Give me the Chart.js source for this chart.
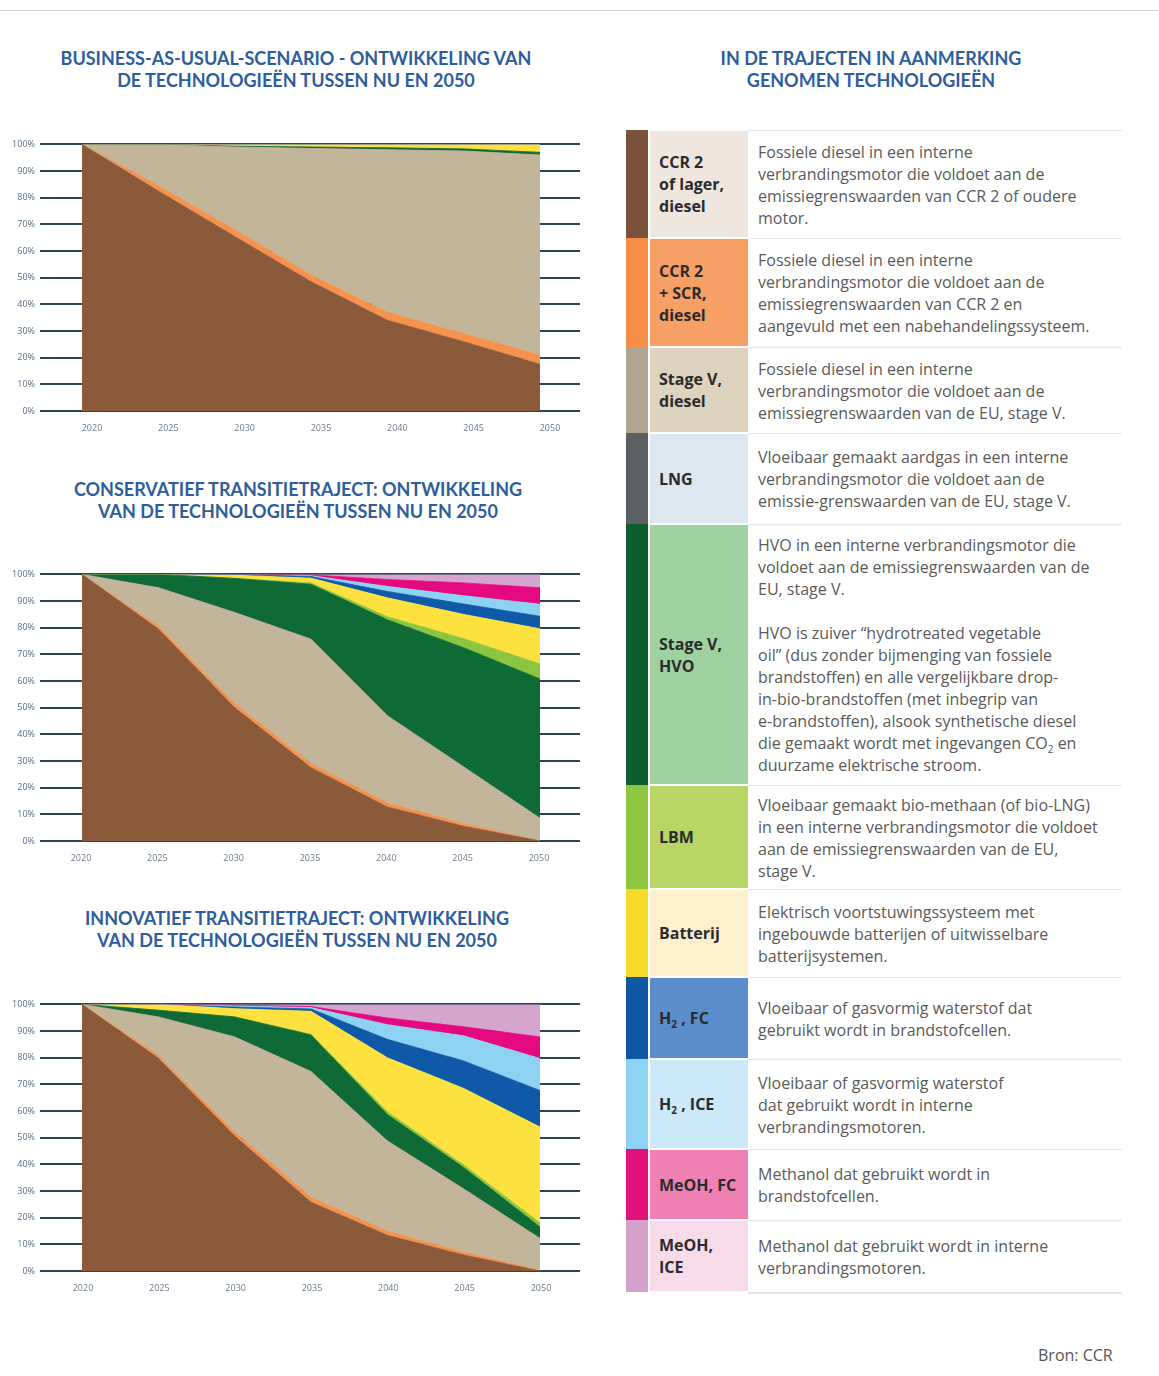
<!DOCTYPE html>
<html lang="nl">
<head>
<meta charset="utf-8">
<script src="https://cdn.jsdelivr.net/npm/chart.js@4.4.1/dist/chart.umd.min.js"></script>
<style>
  html, body { margin:0; padding:0; background:#fff; }
  body { width:1159px; height:1376px; position:relative; overflow:hidden; font-family:"Open Sans", sans-serif; }
  .topline { position:absolute; left:0; top:10px; width:1159px; height:1px; background:#cfcfcf; }
  .title { position:absolute; font-family:Lato, sans-serif; font-weight:700; font-size:18px; line-height:22px; color:#2d5d9c; text-align:center; white-space:nowrap; }
  canvas { position:absolute; left:0; }
  .row { position:absolute; left:626px; width:496px; }
  .sw { position:absolute; left:0; top:0; bottom:0; width:22px; }
  .lab { position:absolute; left:24px; top:1px; bottom:1px; width:98px; display:flex; align-items:center; box-sizing:border-box; padding-left:9px; font-weight:700; font-size:16px; line-height:22px; color:#2b2b2b; }
  .desc { position:absolute; left:122px; right:0; top:0; bottom:0; display:flex; align-items:center; box-sizing:border-box; padding-left:10px; font-size:16px; line-height:22px; color:#5a5a5a; border-top:1.5px solid #e6e6e6; white-space:nowrap; }
  .lab sub, .desc sub { font-size:10px; line-height:0; }
  .src { position:absolute; left:1038px; top:1344px; font-size:16px; color:#555; }
</style>
</head>
<body>
<div class="topline"></div>
<div class="title" style="left:0;width:592px;top:47px;">BUSINESS-AS-USUAL-SCENARIO - ONTWIKKELING VAN<br>DE TECHNOLOGIEËN TUSSEN NU EN 2050</div>
<div class="title" style="left:0;width:596px;top:478px;">CONSERVATIEF TRANSITIETRAJECT: ONTWIKKELING<br>VAN DE TECHNOLOGIEËN TUSSEN NU EN 2050</div>
<div class="title" style="left:0;width:594px;top:907px;">INNOVATIEF TRANSITIETRAJECT: ONTWIKKELING<br>VAN DE TECHNOLOGIEËN TUSSEN NU EN 2050</div>
<div class="title" style="left:620px;width:502px;top:47px;">IN DE TRAJECTEN IN AANMERKING<br>GENOMEN TECHNOLOGIEËN</div>

<canvas id="c1" width="590" height="307" style="top:134px;width:590px;height:307px;"></canvas>
<canvas id="c2" width="590" height="307" style="top:564px;width:590px;height:307px;"></canvas>
<canvas id="c3" width="590" height="307" style="top:994px;width:590px;height:307px;"></canvas>

<div id="legend"></div>
<div class="src">Bron: CCR</div>

<script>
// ---------- DATA ----------
const years = [2020, 2025, 2030, 2035, 2040, 2045, 2050];
const yearTicks = [2020, 2025, 2030, 2035, 2040, 2045, 2050];
const percentTicks = [0, 10, 20, 30, 40, 50, 60, 70, 80, 90, 100];

const seriesNames = ['CCR 2 of lager, diesel', 'CCR 2 + SCR, diesel', 'Stage V, diesel', 'LNG', 'Stage V, HVO', 'LBM', 'Batterij', 'H2, FC', 'H2, ICE', 'MeOH, FC', 'MeOH, ICE'];

// Business-as-usual
const bauCCR2   = [100, 82.5, 65.5, 48.5, 34, 26, 17.5];
const bauSCR    = [0, 2, 2.5, 2.5, 3, 3, 3.5];
const bauStageV = [0, 15.5, 31, 47.5, 61, 68.5, 75];
const bauLNG    = [0, 0, 0, 0, 0, 0, 0];
const bauHVO    = [0, 0, 0.3, 0.5, 0.7, 0.8, 1];
const bauLBM    = [0, 0, 0, 0, 0, 0, 0];
const bauBat    = [0, 0, 0.7, 1, 1.3, 1.7, 3];
const bauH2FC   = [0, 0, 0, 0, 0, 0, 0];
const bauH2ICE  = [0, 0, 0, 0, 0, 0, 0];
const bauMeFC   = [0, 0, 0, 0, 0, 0, 0];
const bauMeICE  = [0, 0, 0, 0, 0, 0, 0];

// Conservatief
const consCCR2   = [100, 79.5, 50, 27.5, 12.8, 5.5, 0];
const consSCR    = [0, 1, 1.5, 1.5, 1.5, 1, 0];
const consStageV = [0, 14.5, 34.2, 46.7, 32.7, 21.3, 8.5];
const consLNG    = [0, 0, 0, 0, 0, 0, 0];
const consHVO    = [0, 5, 12.8, 20.6, 36, 44.7, 52.3];
const consLBM    = [0, 0, 0, 0.5, 1.1, 3.4, 5.6];
const consBat    = [0, 0, 1.2, 1.8, 7.1, 9.1, 13.2];
const consH2FC   = [0, 0, 0.3, 0.6, 2.4, 3.9, 4.7];
const consH2ICE  = [0, 0, 0, 0.3, 1.9, 3.1, 4.5];
const consMeFC   = [0, 0, 0, 0.3, 2.6, 4.8, 6.2];
const consMeICE  = [0, 0, 0, 0.2, 1.9, 3.2, 5];

// Innovatief
const innoCCR2   = [100, 79.8, 50.6, 25.8, 13.4, 6, 0];
const innoSCR    = [0, 1, 1.5, 1.8, 1.5, 1, 0.3];
const innoStageV = [0, 14.5, 35.7, 47.2, 33.9, 23.8, 11.9];
const innoLNG    = [0, 0, 0, 0, 0, 0, 0];
const innoHVO    = [0, 2.5, 7.5, 13.7, 9.9, 8, 4.3];
const innoLBM    = [0, 0, 0, 0.3, 1, 1, 1.5];
const innoBat    = [0, 2.2, 3.1, 8.6, 20.3, 28.7, 36];
const innoH2FC   = [0, 0, 0.6, 0.9, 6.9, 10.3, 13.7];
const innoH2ICE  = [0, 0, 0.4, 0.5, 5.5, 9.4, 12];
const innoMeFC   = [0, 0, 0.3, 0.4, 2.5, 3.4, 8.1];
const innoMeICE  = [0, 0, 0.3, 0.8, 5.1, 8.4, 12.2];

// Legend texts
const legendLabels = [
  'CCR 2<br>of lager,<br>diesel',
  'CCR 2<br>+ SCR,<br>diesel',
  'Stage V,<br>diesel',
  'LNG',
  'Stage V,<br>HVO',
  'LBM',
  'Batterij',
  'H<sub>2</sub> , FC',
  'H<sub>2</sub> , ICE',
  'MeOH, FC',
  'MeOH,<br>ICE'
];
const legendDescs = [
  'Fossiele diesel in een interne<br>verbrandingsmotor die voldoet aan de<br>emissiegrenswaarden van CCR 2 of oudere<br>motor.',
  'Fossiele diesel in een interne<br>verbrandingsmotor die voldoet aan de<br>emissiegrenswaarden van CCR 2 en<br>aangevuld met een nabehandelingssysteem.',
  'Fossiele diesel in een interne<br>verbrandingsmotor die voldoet aan de<br>emissiegrenswaarden van de EU, stage V.',
  'Vloeibaar gemaakt aardgas in een interne<br>verbrandingsmotor die voldoet aan de<br>emissie-grenswaarden van de EU, stage V.',
  'HVO in een interne verbrandingsmotor die<br>voldoet aan de emissiegrenswaarden van de<br>EU, stage V.<br><br>HVO is zuiver “hydrotreated vegetable<br>oil” (dus zonder bijmenging van fossiele<br>brandstoffen) en alle vergelijkbare drop-<br>in-bio-brandstoffen (met inbegrip van<br>e-brandstoffen), alsook synthetische diesel<br>die gemaakt wordt met ingevangen CO<sub>2</sub> en<br>duurzame elektrische stroom.',
  'Vloeibaar gemaakt bio-methaan (of bio-LNG)<br>in een interne verbrandingsmotor die voldoet<br>aan de emissiegrenswaarden van de EU,<br>stage V.',
  'Elektrisch voortstuwingssysteem met<br>ingebouwde batterijen of uitwisselbare<br>batterijsystemen.',
  'Vloeibaar of gasvormig waterstof dat<br>gebruikt wordt in brandstofcellen.',
  'Vloeibaar of gasvormig waterstof<br>dat gebruikt wordt in interne<br>verbrandingsmotoren.',
  'Methanol dat gebruikt wordt in<br>brandstofcellen.',
  'Methanol dat gebruikt wordt in interne<br>verbrandingsmotoren.'
];

// ---------- STYLE / LAYOUT ----------
const seriesColors = ['#8a5a3b', '#f4924e', '#c3b59a', '#5d6163', '#0f6b35', '#8cc540', '#fde23f', '#0f5aa8', '#8ed2f3', '#e4097e', '#d5a6cd'];
const swatchColors = ['#7a5139', '#f68d47', '#aea48f', '#5b5f62', '#0e5e2f', '#8cc63f', '#f7d92a', '#0d57a5', '#8dd2f2', '#e2117c', '#d3a1c9'];
const labelBg = ['#efe6df', '#f6a066', '#ddd3bf', '#dce7f0', '#9fd2a0', '#b8d566', '#fdf0cf', '#5b8ccc', '#cbe9f8', '#ef80b4', '#f7dbe8'];
const rowEdges = [130, 238, 347, 433, 524, 785, 889, 977, 1059, 1149, 1220, 1292];

// ---------- LEGEND TABLE ----------
const leg = document.getElementById('legend');
legendLabels.forEach((lab, i) => {
  const r = document.createElement('div');
  r.className = 'row';
  r.style.top = rowEdges[i] + 'px';
  r.style.height = (rowEdges[i + 1] - rowEdges[i]) + 'px';
  r.innerHTML = `<div class="sw" style="background:${swatchColors[i]}"></div>` +
    `<div class="lab" style="background:${labelBg[i]}"><div>${lab}</div></div>` +
    `<div class="desc"><div>${legendDescs[i]}</div></div>`;
  leg.appendChild(r);
});
const lastLine = document.createElement('div');
lastLine.style.cssText = `position:absolute;left:748px;top:${rowEdges[rowEdges.length-1]}px;width:374px;height:1.5px;background:#e6e6e6;`;
leg.appendChild(lastLine);

// ---------- CHARTS ----------
Chart.defaults.font.family = '"Open Sans", sans-serif';

function makeChart(id, seriesList, labelOffset) {
  const datasets = seriesList.map((vals, i) => ({
    label: seriesNames[i],
    data: years.map((y, k) => ({ x: y, y: vals[k] })),
    backgroundColor: seriesColors[i],
    borderColor: seriesColors[i],
    borderWidth: 0.8,
    pointRadius: 0,
    tension: 0,
    fill: i === 0 ? 'origin' : '-1'
  }));
  return new Chart(document.getElementById(id), {
    type: 'line',
    data: { datasets },
    options: {
      responsive: false,
      animation: false,
      devicePixelRatio: 1,
      layout: { padding: { top: 5, right: 10, left: 0, bottom: 0 } },
      plugins: { legend: { display: false }, tooltip: { enabled: false }, title: { display: false } },
      elements: { line: { borderJoinStyle: 'miter' } },
      scales: {
        x: {
          type: 'linear',
          min: 2017.25,
          max: 2052.62,
          grid: { display: false },
          border: { display: false },
          afterBuildTicks: (s) => { s.ticks = yearTicks.map(v => ({ value: v })); },
          afterFit: (s) => { s.height = 30; },
          ticks: {
            autoSkip: false,
            maxRotation: 0,
            padding: 4,
            labelOffset: labelOffset,
            color: '#6f7d8b',
            font: { size: 9 },
            callback: (v) => String(v)
          }
        },
        y: {
          stacked: true,
          min: 0,
          max: 100,
          afterBuildTicks: (s) => { s.ticks = percentTicks.map(v => ({ value: v })); },
          afterFit: (s) => { s.width = 40; },
          grid: { color: '#2d4356', lineWidth: 2, drawTicks: false },
          border: { display: false },
          ticks: {
            padding: 5,
            color: '#5a6d80',
            font: { size: 9 },
            callback: (v) => v + '%'
          }
        }
      }
    }
  });
}

makeChart('c1', [bauCCR2, bauSCR, bauStageV, bauLNG, bauHVO, bauLBM, bauBat, bauH2FC, bauH2ICE, bauMeFC, bauMeICE], 10);
makeChart('c2', [consCCR2, consSCR, consStageV, consLNG, consHVO, consLBM, consBat, consH2FC, consH2ICE, consMeFC, consMeICE], -1);
makeChart('c3', [innoCCR2, innoSCR, innoStageV, innoLNG, innoHVO, innoLBM, innoBat, innoH2FC, innoH2ICE, innoMeFC, innoMeICE], 1);
</script>
</body>
</html>
